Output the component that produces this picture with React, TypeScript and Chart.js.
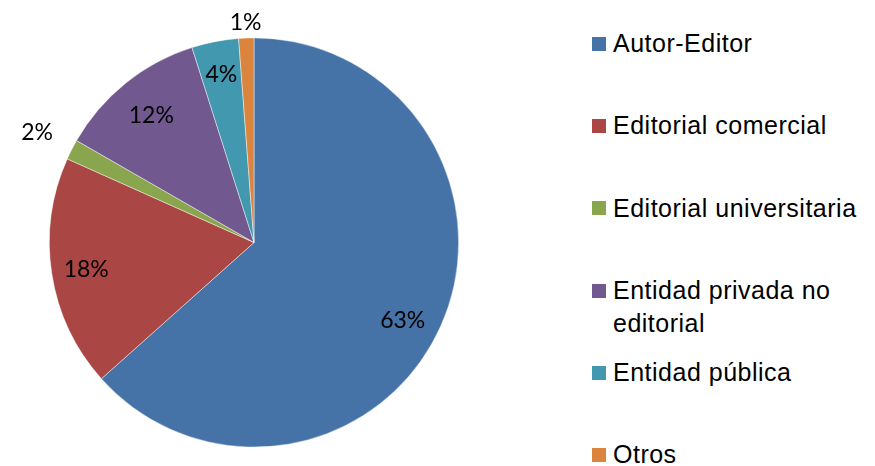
import React, { useEffect, useRef } from "react";
import { Chart, registerables } from "chart.js";

Chart.register(...registerables);

const categories = [
  "Autor-Editor",
  "Editorial comercial",
  "Editorial universitaria",
  "Entidad privada no editorial",
  "Entidad pública",
  "Otros",
];
const shares = [63.4, 18.3, 1.6, 11.8, 3.7, 1.2];
const colors = ["#4572A7", "#AA4643", "#89A54E", "#71588F", "#4198AF", "#DB843D"];
const labelRadius = [0.82, 0.83, 1.19, 0.8, 0.84, 1.08];
const labelAngleShift = [0.06, 0, 0, 0, 0, 0];

const pctLabels = {
  id: "pctLabels",
  afterDatasetsDraw(chart: any) {
    const ctx = chart.ctx;
    const meta = chart.getDatasetMeta(0);
    ctx.save();
    ctx.font = "23px Lato, 'Open Sans', sans-serif";
    ctx.fillStyle = "#000";
    ctx.textAlign = "center";
    ctx.textBaseline = "alphabetic";
    meta.data.forEach((arc: any, i: number) => {
      const p = arc.getProps(["x", "y", "startAngle", "endAngle", "outerRadius"], true);
      const mid = (p.startAngle + p.endAngle) / 2 + labelAngleShift[i];
      const r = p.outerRadius * labelRadius[i];
      const x = p.x + Math.cos(mid) * r;
      const y = p.y + Math.sin(mid) * r;
      ctx.fillText(Math.round(shares[i]) + "%", x, y + 8);
    });
    ctx.restore();
  },
};

function PieChart() {
  const ref = useRef<HTMLCanvasElement | null>(null);
  useEffect(() => {
    if (!ref.current) return;
    const chart = new Chart(ref.current, {
      type: "pie",
      data: {
        labels: categories,
        datasets: [
          {
            data: shares,
            backgroundColor: colors,
            borderColor: "rgba(255,255,255,0.55)",
            borderWidth: 0.8,
          },
        ],
      },
      options: {
        responsive: false,
        animation: false,
        devicePixelRatio: 1,
        layout: { padding: { left: 49, right: 61, top: 37, bottom: 18 } },
        plugins: {
          legend: { display: false },
          tooltip: { enabled: false },
        },
      },
      plugins: [pctLabels],
    });
    return () => chart.destroy();
  }, []);
  return (
    <canvas
      ref={ref}
      width={520}
      height={466}
      style={{ position: "absolute", left: 0, top: 0, width: 520, height: 466 }}
    />
  );
}

export default function App() {
  const rowStep = 82.2;
  return (
    <div
      style={{
        position: "absolute",
        left: 0,
        top: 0,
        width: 875,
        height: 466,
        background: "#fff",
        overflow: "hidden",
      }}
    >
      <PieChart />
      {categories.map((c, i) => (
        <div
          key={c}
          style={{
            position: "absolute",
            left: 592,
            top: 27.2 + rowStep * i,
            display: "flex",
            alignItems: "flex-start",
          }}
        >
          <div
            style={{
              width: 14,
              height: 14,
              marginTop: 9.8,
              background: colors[i],
              flex: "none",
            }}
          />
          <div
            style={{
              marginLeft: 7,
              width: 262,
              fontFamily: "'Liberation Sans', Arial, sans-serif",
              fontSize: 25,
              letterSpacing: "0.5px",
              lineHeight: "33px",
              color: "#000",
            }}
          >
            {c}
          </div>
        </div>
      ))}
    </div>
  );
}
